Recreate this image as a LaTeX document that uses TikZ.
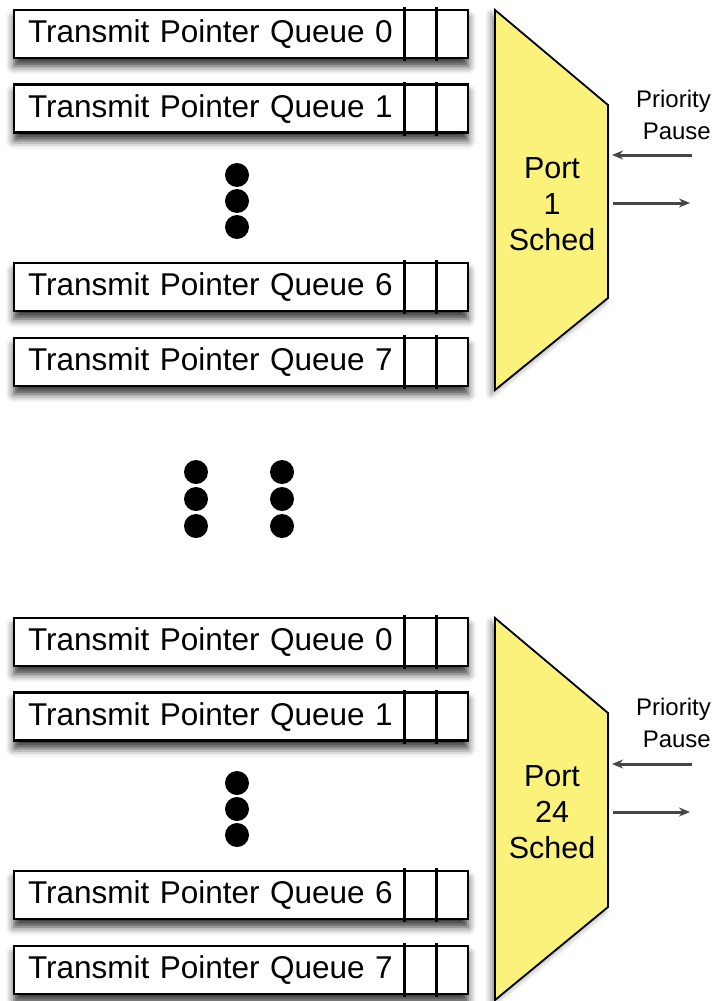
\documentclass[tikz,border=0pt]{standalone}
\usepackage{fontspec}
\setmainfont{Liberation Sans}
\usetikzlibrary{arrows.meta,shadows.blur}
\definecolor{schedyellow}{RGB}{250,242,122}
\definecolor{arrowgray}{RGB}{70,70,70}
\tikzset{
  queue/.style={draw=black, line width=2.3pt, fill=white, rectangle,
    minimum width=454pt, minimum height=48pt, inner xsep=14pt, inner ysep=0pt,
    text width=426pt, align=left, text height=17pt, text depth=0pt,
    font=\fontsize{31.5}{37}\selectfont,
    blur shadow={shadow xshift=0pt, shadow yshift=-8pt, shadow blur radius=8pt, shadow opacity=80}},
  divider/.style={draw=black, line width=2.1pt},
  sched/.style={draw=black, line width=1.8pt, fill=schedyellow,
    blur shadow={shadow xshift=-4pt, shadow yshift=-4pt, shadow blur radius=6pt, shadow opacity=45}},
  schedtext/.style={align=center, font=\fontsize{30.5}{36}\selectfont},
  pausetext/.style={align=right, font=\fontsize{24}{32}\selectfont, anchor=north east, inner sep=0pt},
  sigarrow/.style={draw=arrowgray, line width=3pt, -{Stealth[length=11pt,width=9pt,fill=black]}},
  dot/.style={fill=black, draw=none}
}
\begin{document}
\begin{tikzpicture}[x=1pt,y=-1pt]
\useasboundingbox (0,0) rectangle (716,1001);
% queues
\foreach \g/\off in {1/0,2/608}{
  \foreach \q/\c in {0/34,1/108.5,6/287,7/362}{
    \node[queue] (g\g q\q) at (241,\c+\off) {Transmit Pointer Queue \q};
    \draw[divider] (404.5,\c+\off-27) -- (404.5,\c+\off+27);
    \draw[divider] (436.5,\c+\off-27) -- (436.5,\c+\off+27);
  }
  \foreach \y in {175,201,227}{
    \fill[dot] (237,\y+\off) circle (12);
  }
}
% middle dots
\foreach \y in {472,499,526}{
  \fill[dot] (196,\y) circle (12);
  \fill[dot] (282,\y) circle (12);
}
% scheduler 1
\draw[sched] (495,10) -- (608,105) -- (608,298) -- (495,390) -- cycle;
\node[schedtext] (p1) at (552,204) {Port\\1\\Sched};
\node[pausetext] (pp1) at (711,90) {Priority\\Pause};
\coordinate (p1inS) at (692,155);
\coordinate (p1inE) at (612,155);
\coordinate (p1outS) at (613,203);
\coordinate (p1outE) at (690,203);
\draw[sigarrow] (p1inS) -- (p1inE);
\draw[sigarrow] (p1outS) -- (p1outE);
% scheduler 24
\draw[sched] (495,618) -- (608,713) -- (608,907) -- (495,1000) -- cycle;
\node[schedtext] (p24) at (552,812) {Port\\24\\Sched};
\node[pausetext] (pp24) at (711,698) {Priority\\Pause};
\coordinate (p24inS) at (692,764);
\coordinate (p24inE) at (612,764);
\coordinate (p24outS) at (613,812);
\coordinate (p24outE) at (690,812);
\draw[sigarrow] (p24inS) -- (p24inE);
\draw[sigarrow] (p24outS) -- (p24outE);
\end{tikzpicture}
\end{document}
